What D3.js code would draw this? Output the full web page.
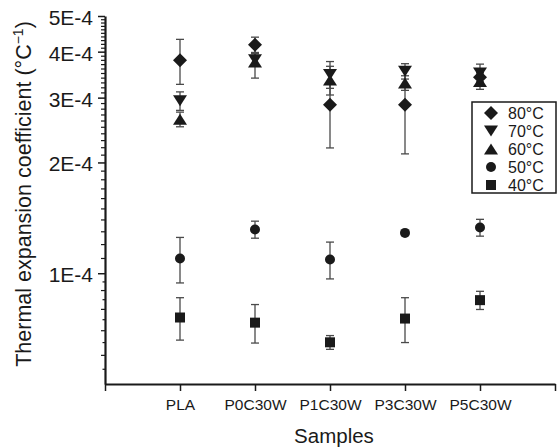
<!DOCTYPE html>
<html>
<head>
<meta charset="utf-8">
<script src="https://cdn.jsdelivr.net/npm/d3@7"></script>
<style>
  html, body { margin: 0; padding: 0; background: #fff; }
  svg { display: block; font-family: "Liberation Sans", Arial, Helvetica, sans-serif; }
</style>
</head>
<body>
<svg id="chart" width="557" height="447"></svg>
<script>
// Samples on the x axis
const samples = ["PLA", "P0C30W", "P1C30W", "P3C30W", "P5C30W"];
// Measurement temperatures (legend order)
const temps = ["80°C", "70°C", "60°C", "50°C", "40°C"];
const shapes = ["diamond", "down", "up", "circle", "square"];

// Mean thermal expansion coefficients (°C^-1) and their standard deviations
const mean80 = [3.79e-4, 4.18e-4, 2.87e-4, 2.87e-4, 3.41e-4];
const err80  = [0.53e-4, 0.20e-4, 0.68e-4, 0.76e-4, 0.10e-4];
const mean70 = [2.94e-4, 3.80e-4, 3.47e-4, 3.54e-4, 3.50e-4];
const err70  = [0.17e-4, 0.15e-4, 0.29e-4, 0.17e-4, 0.20e-4];
const mean60 = [2.62e-4, 3.75e-4, 3.35e-4, 3.29e-4, 3.32e-4];
const err60  = [0.12e-4, 0.36e-4, 0.30e-4, 0.15e-4, 0.16e-4];
const mean50 = [1.096e-4, 1.315e-4, 1.09e-4, 1.287e-4, 1.331e-4];
const err50  = [0.155e-4, 0.07e-4, 0.125e-4, 0.01e-4, 0.07e-4];
const mean40 = [0.758e-4, 0.734e-4, 0.649e-4, 0.753e-4, 0.845e-4];
const err40  = [0.10e-4, 0.088e-4, 0.028e-4, 0.105e-4, 0.048e-4];

// Y axis tick values and labels
const yTickValues = [1e-4, 2e-4, 3e-4, 4e-4, 5e-4];
const yTickLabels = ["1E-4", "2E-4", "3E-4", "4E-4", "5E-4"];

const means = [mean80, mean70, mean60, mean50, mean40];
const errs  = [err80, err70, err60, err50, err40];

const svg = d3.select("#chart");
const plotLeft = 105, plotRight = 555, plotTop = 16, plotBottom = 384;

const x = d3.scaleLinear().domain([0, samples.length + 1]).range([plotLeft, plotRight]);
const y = d3.scaleLog().domain([5e-5, 5e-4]).range([plotBottom, plotTop]);

const ink = "#1a1a1a";

// Marker path generator, centred on (0,0)
function markerPath(shape) {
  switch (shape) {
    case "diamond": return "M0,-7L7,0L0,7L-7,0Z";
    case "down": return "M-7,-5.5L7,-5.5L0,5.5Z";
    case "up": return "M-7,5.5L7,5.5L0,-5.5Z";
    case "circle": return d3.symbol(d3.symbolCircle, Math.PI * 25)();
    case "square": return "M-5,-5L5,-5L5,5L-5,5Z";
  }
}

// Minor ticks: every 5E-6 below 1E-4, every 1E-5 above
const minorLow = d3.range(55, 100, 5).map(v => v * 1e-6);
const minorHigh = d3.range(11, 50).filter(v => v % 10 !== 0).map(v => v * 1e-5);

const minorLong = minorLow.filter((v, i) => i % 2 === 1);
const minorShort = minorLow.filter((v, i) => i % 2 === 0);

svg.append("g").attr("transform", `translate(${plotLeft},0)`)
  .call(d3.axisLeft(y).tickValues(minorHigh.concat(minorLong)).tickSize(4).tickSizeOuter(0).tickFormat(""))
  .call(g => g.select(".domain").remove())
  .selectAll("line").attr("stroke", ink).attr("stroke-width", 1.2);

svg.append("g").attr("transform", `translate(${plotLeft},0)`)
  .call(d3.axisLeft(y).tickValues(minorShort).tickSize(2.5).tickSizeOuter(0).tickFormat(""))
  .call(g => g.select(".domain").remove())
  .selectAll("line").attr("stroke", ink).attr("stroke-width", 1.2);

// Major y axis
const yAxis = svg.append("g").attr("transform", `translate(${plotLeft},0)`)
  .call(d3.axisLeft(y).tickValues(yTickValues).tickSize(7).tickSizeOuter(0).tickPadding(5)
    .tickFormat((d, i) => yTickLabels[i]));
yAxis.select(".domain").attr("stroke", ink).attr("stroke-width", 2.2);
yAxis.selectAll(".tick line").attr("stroke", ink).attr("stroke-width", 1.5);
yAxis.selectAll(".tick text").attr("fill", ink).attr("font-size", 21)
  .attr("dy", "0.4em")
  .attr("font-family", "Liberation Sans, Arial, sans-serif");

// X axis
const xAxis = svg.append("g").attr("transform", `translate(0,${plotBottom})`)
  .call(d3.axisBottom(x).tickValues(d3.range(0, samples.length + 2)).tickSize(7).tickSizeOuter(0)
    .tickPadding(8).tickFormat(i => samples[i - 1] || ""));
xAxis.select(".domain").attr("stroke", ink).attr("stroke-width", 2.2);
xAxis.selectAll(".tick line").attr("stroke", ink).attr("stroke-width", 1.5);
xAxis.selectAll(".tick text").attr("fill", ink).attr("font-size", 15.5)
  .attr("font-family", "Liberation Sans, Arial, sans-serif");

// Axis titles
svg.append("text")
  .attr("x", 334).attr("y", 443)
  .attr("text-anchor", "middle").attr("font-size", 20.5).attr("fill", ink)
  .text("Samples");

const yTitle = svg.append("text")
  .attr("transform", "translate(31,194) rotate(-90)")
  .attr("text-anchor", "middle").attr("font-size", 21.5).attr("fill", ink);
yTitle.append("tspan").text("Thermal expansion coefficient (°C");
yTitle.append("tspan").attr("font-size", 14).attr("dy", -8).text("−1");
yTitle.append("tspan").attr("dy", 8).text(")");

// Error bars, then markers (40°C first so the 80°C markers sit on top)
const plot = svg.append("g");
const order = [4, 3, 2, 1, 0];
order.forEach(s => {
  const g = plot.append("g").attr("stroke", "#4a4a4a").attr("stroke-width", 1.3).attr("fill", "none");
  samples.forEach((name, i) => {
    const cx = x(i + 1);
    const yt = y(means[s][i] + errs[s][i]);
    const yb = y(means[s][i] - errs[s][i]);
    g.append("line").attr("x1", cx).attr("x2", cx).attr("y1", yt).attr("y2", yb);
    g.append("line").attr("x1", cx - 4).attr("x2", cx + 4).attr("y1", yt).attr("y2", yt);
    g.append("line").attr("x1", cx - 4).attr("x2", cx + 4).attr("y1", yb).attr("y2", yb);
  });
});
order.forEach(s => {
  plot.append("g").selectAll("path").data(means[s]).join("path")
    .attr("d", markerPath(shapes[s]))
    .attr("transform", (d, i) => `translate(${x(i + 1)},${y(d)})`)
    .attr("fill", ink);
});

// Legend
const legend = svg.append("g");
legend.append("rect").attr("x", 472).attr("y", 102).attr("width", 84).attr("height", 91)
  .attr("fill", "#fff").attr("stroke", ink).attr("stroke-width", 1.5);
temps.forEach((t, i) => {
  const ly = 113 + i * 18;
  legend.append("path").attr("d", markerPath(shapes[i]))
    .attr("transform", `translate(491,${ly})`).attr("fill", ink);
  legend.append("text").attr("x", 508).attr("y", ly).attr("dy", "0.36em")
    .attr("font-size", 16).attr("fill", ink).text(t);
});
</script>
</body>
</html>
